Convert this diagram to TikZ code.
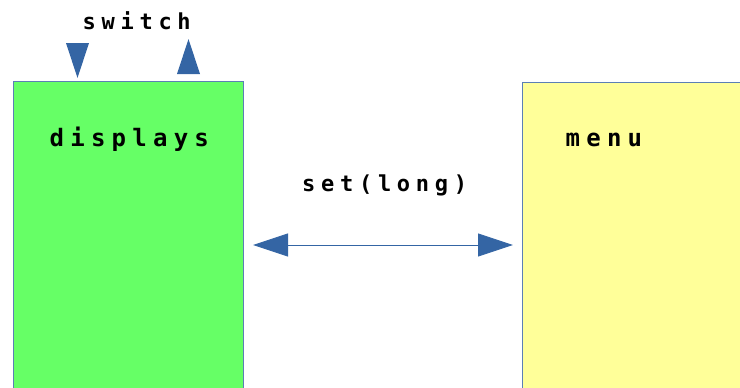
\documentclass[tikz,border=0pt]{standalone}
\usepackage{fontspec}
\newfontfamily\lblfont{DejaVu Sans Mono}[LetterSpace=26]
\usetikzlibrary{arrows.meta}
\definecolor{boxgreen}{HTML}{66FF66}
\definecolor{boxyellow}{HTML}{FFFF99}
\definecolor{edgeblue}{HTML}{5B7FB5}
\definecolor{tipblue}{HTML}{3465A4}
\tikzset{
  panel/.style={draw=edgeblue, line width=1pt, inner sep=0pt, outer sep=0pt},
  lbl/.style={font=\lblfont\bfseries\fontsize{22}{26}\selectfont, inner sep=0pt, anchor=base west},
  biglbl/.style={lbl, font=\lblfont\bfseries\fontsize{24}{28}\selectfont},
  link/.style={draw=tipblue, line width=0.9pt, {Triangle[length=35pt,width=23pt]}-{Triangle[length=35pt,width=23pt]}},
  tip/.style={fill=tipblue}
}
\begin{document}
\begin{tikzpicture}[x=1pt,y=-1pt]
\useasboundingbox (0,0) rectangle (740,388);
% the two panels run off the lower and right edges
\node[panel, fill=boxgreen, minimum width=230pt, minimum height=330pt, anchor=north west] (disp) at (13,81) {};
\node[panel, fill=boxyellow, minimum width=240pt, minimum height=330pt, anchor=north west] (menu) at (522.5,82) {};
\node[biglbl] (displabel) at (49.5,146) {displays};
\node[biglbl] (menulabel) at (565.5,146) {menu};
\node[lbl] (switchlabel) at (82.5,30) {switch};
\node[lbl] (setlabel) at (302,191) {set(long)};
% switch markers above the displays panel
\coordinate (downtip) at (77.5,78);
\coordinate (uptip) at (188.5,39);
\fill[tip] (downtip) -- ++(-11.5,-35) -- ++(23,0) -- cycle;
\fill[tip] (uptip) -- ++(-11.5,35) -- ++(23,0) -- cycle;
% set(long) link between the panels
\coordinate (linkL) at ([xshift=10pt]disp.east |- 0,245);
\coordinate (linkR) at ([xshift=-9.5pt]menu.west |- 0,245);
\draw[link] (linkL) -- (linkR);
\end{tikzpicture}
\end{document}
